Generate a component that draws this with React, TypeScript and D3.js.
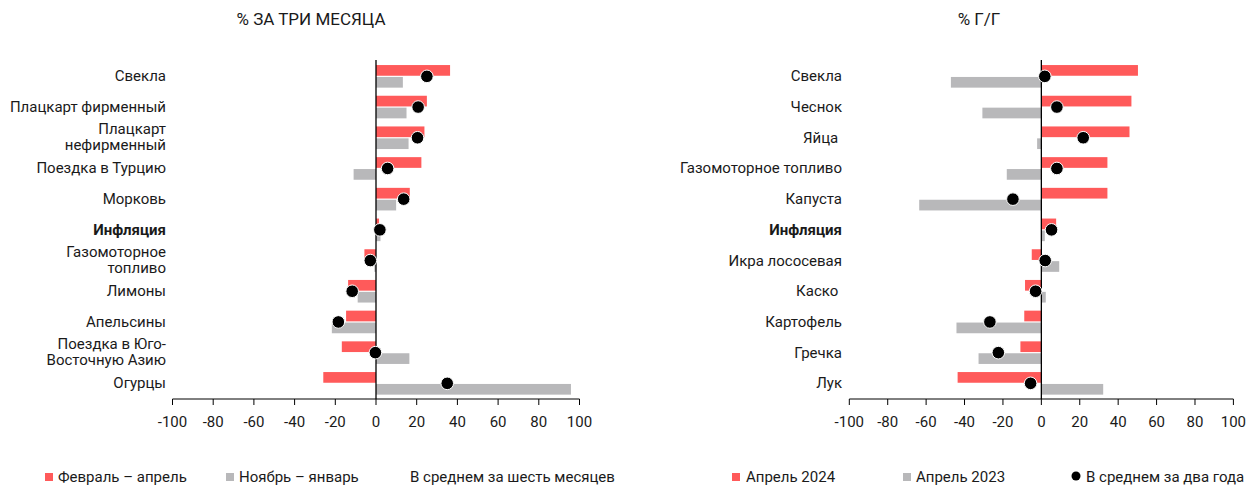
import React from "react";
import * as d3 from "d3";

const leftCategories = [
  "Свекла",
  "Плацкарт фирменный",
  "Плацкарт\nнефирменный",
  "Поездка в Турцию",
  "Морковь",
  "Инфляция",
  "Газомоторное\nтопливо",
  "Лимоны",
  "Апельсины",
  "Поездка в Юго-\nВосточную Азию",
  "Огурцы",
];
const leftFebApr = [36.4, 25, 23.8, 22.3, 16.6, 1.5, -5.7, -13.7, -14.7, -16.8, -25.9];
const leftNovJan = [13.2, 15, 16, -11, 9.9, 2.2, -0.8, -9, -21.7, 16.4, 95.8];
const leftAvg6m = [25, 20.7, 20.4, 5.7, 13.6, 1.9, -2.8, -11.7, -18.5, -0.3, 35];

const rightCategories = [
  "Свекла",
  "Чеснок",
  "Яйца ",
  "Газомоторное топливо",
  "Капуста",
  "Инфляция",
  "Икра лососевая",
  "Каско ",
  "Картофель",
  "Гречка",
  "Лук",
];
const rightApr2024 = [50.3, 46.9, 45.9, 34.4, 34.4, 7.7, -5, -8.5, -8.9, -10.9, -43.6];
const rightApr2023 = [-47.1, -30.7, -2.2, -18, -63.6, 1.8, 9.3, 2.3, -44.2, -32.7, 32.2];
const rightAvg2y = [1.8, 8.1, 21.8, 8.1, -14.8, 5.3, 2, -3, -26.8, -22.4, -5.6];

const ticks = [-100, -80, -60, -40, -20, 0, 20, 40, 60, 80, 100];

const RED = "#FF5A5A";
const GRAY = "#B8B8BA";
const FONT = "Roboto, 'Noto Sans', sans-serif";

type PanelProps = {
  title: string;
  titleX: number;
  categories: string[];
  a: number[];
  b: number[];
  avg: number[];
  xRange: [number, number];
  labelX: number;
};

function Panel({ title, titleX, categories, a, b, avg, xRange, labelX }: PanelProps) {
  const x = d3.scaleLinear().domain([-100, 100]).range(xRange);
  const y = d3.scaleBand<string>().domain(categories).range([61, 398.7]).padding(0);
  const x0 = x(0);
  const axisY = 399;
  return (
    <g>
      <text x={titleX} y={19} textAnchor="middle" dominantBaseline="central" fontSize={17} fill="#1a1a1a">
        {title}
      </text>
      {categories.map((c, i) => {
        const cy = (y(c) as number) + y.bandwidth() / 2;
        const lines = c.split("\n");
        const bold = c.trim() === "Инфляция";
        return (
          <g key={c + i}>
            <rect
              x={Math.min(x0, x(a[i]))}
              y={cy - 11.3}
              width={Math.abs(x(a[i]) - x0)}
              height={10.7}
              fill={RED}
            />
            <rect
              x={Math.min(x0, x(b[i]))}
              y={cy + 0.6}
              width={Math.abs(x(b[i]) - x0)}
              height={10.7}
              fill={GRAY}
            />
            {lines.length === 1 ? (
              <text
                x={labelX}
                y={cy}
                textAnchor="end"
                dominantBaseline="central"
                fontSize={15}
                fontWeight={bold ? 700 : 400}
                fill="#1a1a1a"
                style={{ whiteSpace: "pre" }}
              >
                {c}
              </text>
            ) : (
              lines.map((ln, k) => (
                <text
                  key={k}
                  x={labelX}
                  y={cy - 9 + k * 16}
                  textAnchor="end"
                  dominantBaseline="central"
                  fontSize={15}
                  fill="#1a1a1a"
                >
                  {ln}
                </text>
              ))
            )}
          </g>
        );
      })}
      <line x1={x0} x2={x0} y1={60} y2={axisY} stroke="#000" strokeWidth={1.3} />
      {categories.map((c, i) => {
        const cy = (y(c) as number) + y.bandwidth() / 2;
        return <circle key={"d" + i} cx={x(avg[i])} cy={cy} r={6.3} fill="#000" stroke="#fff" strokeWidth={1} />;
      })}
      <line x1={x(-100)} x2={x(100)} y1={axisY} y2={axisY} stroke="#000" strokeWidth={1} />
      {ticks.map((t) => (
        <g key={t}>
          <line x1={x(t)} x2={x(t)} y1={axisY} y2={axisY + 6} stroke="#000" strokeWidth={1} />
          <text x={x(t)} y={422} textAnchor="middle" dominantBaseline="central" fontSize={15} fill="#1a1a1a">
            {t}
          </text>
        </g>
      ))}
    </g>
  );
}

export default function App() {
  const ly = 477;
  return (
    <svg
      width={1253}
      height={489}
      style={{ position: "absolute", left: 0, top: 0, background: "#fff" }}
      fontFamily={FONT}
    >
      <Panel
        title="% ЗА ТРИ МЕСЯЦА"
        titleX={311}
        categories={leftCategories}
        a={leftFebApr}
        b={leftNovJan}
        avg={leftAvg6m}
        xRange={[172.5, 579.5]}
        labelX={166}
      />
      <Panel
        title="% Г/Г"
        titleX={979}
        categories={rightCategories}
        a={rightApr2024}
        b={rightApr2023}
        avg={rightAvg2y}
        xRange={[849.3, 1233.4]}
        labelX={842}
      />
      <g fontSize={15} fill="#1a1a1a">
        <rect x={45} y={ly - 4} width={8} height={8} fill={RED} />
        <text x={58} y={ly} dominantBaseline="central">Февраль – апрель</text>
        <rect x={226} y={ly - 4} width={8} height={8} fill={GRAY} />
        <text x={239} y={ly} dominantBaseline="central">Ноябрь – январь</text>
        <text x={410} y={ly} dominantBaseline="central">В среднем за шесть месяцев</text>

        <rect x={732} y={ly - 4} width={8} height={8} fill={RED} />
        <text x={746} y={ly} dominantBaseline="central">Апрель 2024</text>
        <rect x={903} y={ly - 4} width={8} height={8} fill={GRAY} />
        <text x={916} y={ly} dominantBaseline="central">Апрель 2023</text>
        <circle cx={1076} cy={ly - 1} r={4.5} fill="#000" />
        <text x={1086} y={ly} dominantBaseline="central">В среднем за два года</text>
      </g>
    </svg>
  );
}
